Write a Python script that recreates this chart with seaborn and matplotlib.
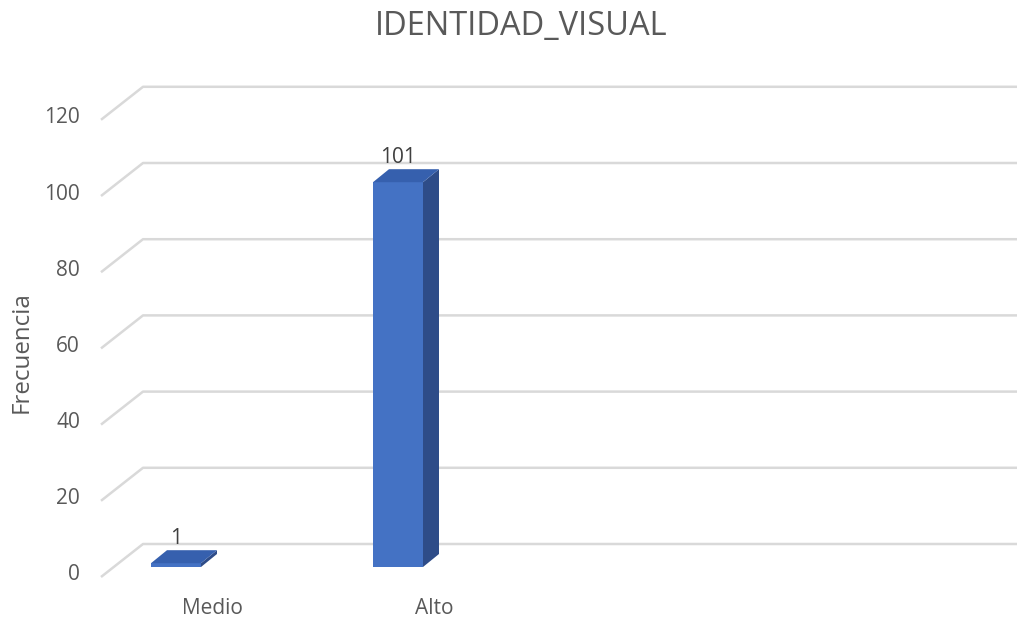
import matplotlib
matplotlib.use("Agg")
import matplotlib.pyplot as plt
import seaborn as sns
from matplotlib.patches import Polygon

categories = ["Medio", "Alto"]
values = [1, 101]
yticks = [0, 20, 40, 60, 80, 100, 120]
title = "IDENTIDAD_VISUAL"
ylabel = "Frecuencia"

sns.set_theme(style="white")
plt.rcParams["font.family"] = ["Open Sans", "DejaVu Sans"]
TXT = "#595959"
GRID = "#D9D9D9"
FRONT = "#4472C4"
SIDE = "#2E4C88"
TOP = "#3660AE"

W, H = 1022, 620
fig = plt.figure(figsize=(W / 100, H / 100), dpi=100)
fig.patch.set_facecolor("white")

SX = 222.0                 # px per category
SY = 457.2 / 120           # px per unit
ax = fig.add_axes([110 / W, 53 / H, 890 / W, 457.2 / H])
X0 = -66 / SX
X1 = X0 + 890 / SX

def fx(px):
    return X0 + (px - 110) / SX

sns.barplot(x=categories, y=values, order=categories, color=FRONT,
            saturation=1, width=50 / SX, ax=ax, zorder=3, linewidth=0)
ax.set_xlim(X0, X1)
ax.set_ylim(0, 120)
ax.set_autoscale_on(False)
ax.set_axis_off()

# 3D-like gridlines (front edge -> back wall -> right)
for v in yticks:
    ax.plot([fx(101), fx(143), fx(1017)],
            [v - 10 / SY, v + 23 / SY, v + 23 / SY],
            color=GRID, lw=1.8, clip_on=False, zorder=0,
            solid_capstyle="butt")
    ax.text(fx(80), v - 8 / SY, str(v), ha="right", va="center",
            fontsize=15, color=TXT, clip_on=False)

ddx = 16 / SX
ddy = 13 / SY
for p in ax.patches[:]:
    x, w, h = p.get_x(), p.get_width(), p.get_height()
    if w <= 0:
        continue
    p.set_edgecolor("none")
    side = Polygon([(x + w, 0), (x + w + ddx, ddy), (x + w + ddx, h + ddy), (x + w, h)],
                   closed=True, facecolor=SIDE, edgecolor="none", zorder=2, clip_on=False)
    top = Polygon([(x, h), (x + w, h), (x + w + ddx, h + ddy), (x + ddx, h + ddy)],
                  closed=True, facecolor=TOP, edgecolor="none", zorder=4, clip_on=False)
    ax.add_patch(side)
    ax.add_patch(top)
    p.set_clip_on(False)

for i, (c, v) in enumerate(zip(categories, values)):
    ax.text(i, v + 25 / SY, str(v), ha="center", va="center", fontsize=15,
            color="#404040", clip_on=False, zorder=5)
    ax.text(i + 36 / SX, -42 / SY, c, ha="center", va="center", fontsize=15,
            color=TXT, clip_on=False)

ax.set_xlim(X0, X1)
ax.set_ylim(0, 120)

fig.text(22 / W, 1 - 352 / H, ylabel, rotation=90, ha="center", va="center",
         fontsize=17.4, color=TXT)
fig.text(521 / W, 1 - 27 / H, title, ha="center", va="center",
         fontsize=23.5, color=TXT)

fig.savefig("out.png", dpi=100, facecolor="white")
